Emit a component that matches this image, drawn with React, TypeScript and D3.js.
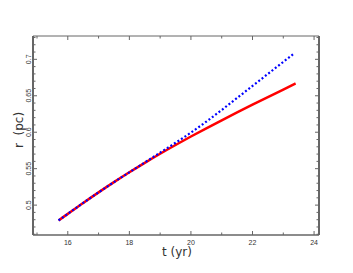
import { useEffect, useRef } from 'react';
import * as d3 from 'd3';

const tRed = [15.7, 16, 16.5, 17, 17.5, 18, 18.5, 19, 19.5, 20, 20.5, 21, 21.5, 22, 22.5, 23, 23.4];
const rRed = [0.479, 0.488, 0.503, 0.5175, 0.5315, 0.545, 0.558, 0.5705, 0.5825, 0.5941, 0.6053, 0.6163, 0.6271, 0.6377, 0.6482, 0.6586, 0.667];
const tBlue = [15.7, 16, 16.5, 17, 17.5, 18, 18.5, 19, 19.5, 20, 20.5, 21, 21.5, 22, 22.5, 23, 23.32];
const rBlue = [0.479, 0.488, 0.503, 0.5175, 0.5315, 0.545, 0.5585, 0.572, 0.5855, 0.5995, 0.6145, 0.6305, 0.647, 0.6635, 0.68, 0.6965, 0.707];
const xTicks = [16, 18, 20, 22, 24];
const yTicks = [0.5, 0.55, 0.6, 0.65, 0.7];

const App = () => {
  const ref = useRef<SVGSVGElement | null>(null);

  useEffect(() => {
    if (!ref.current) return;
    const svg = d3.select(ref.current);
    svg.selectAll('*').remove();

    const left = 33, right = 319, top = 36, bottom = 235;
    const x = d3.scaleLinear().domain([14.87, 24.16]).range([left, right]);
    const y = d3.scaleLinear().domain([0.459, 0.732]).range([bottom, top]);
    const axisColor = '#666';

    // frame
    svg.append('line').attr('x1', left).attr('x2', right).attr('y1', top).attr('y2', top).attr('stroke', axisColor).attr('stroke-width', 1);
    svg.append('line').attr('x1', left).attr('x2', right).attr('y1', bottom).attr('y2', bottom).attr('stroke', axisColor).attr('stroke-width', 1.5);
    svg.append('line').attr('x1', left).attr('x2', left).attr('y1', top).attr('y2', bottom).attr('stroke', axisColor).attr('stroke-width', 2);
    svg.append('line').attr('x1', right).attr('x2', right).attr('y1', top).attr('y2', bottom).attr('stroke', axisColor).attr('stroke-width', 2);

    // x ticks (major + minor), bottom and top
    const xAll = d3.range(15, 25, 1);
    xAll.forEach(v => {
      const len = v % 2 === 0 ? 4 : 2.5;
      svg.append('line').attr('x1', x(v)).attr('x2', x(v)).attr('y1', bottom).attr('y2', bottom - len).attr('stroke', axisColor);
      svg.append('line').attr('x1', x(v)).attr('x2', x(v)).attr('y1', top).attr('y2', top + len).attr('stroke', axisColor);
    });
    // y ticks
    const yAll = d3.range(46, 74, 1);
    yAll.forEach(k => {
      const v = k / 100;
      const len = k % 5 === 0 ? 4 : 2.5;
      svg.append('line').attr('x1', left).attr('x2', left + len).attr('y1', y(v)).attr('y2', y(v)).attr('stroke', axisColor);
      svg.append('line').attr('x1', right).attr('x2', right - len).attr('y1', y(v)).attr('y2', y(v)).attr('stroke', axisColor);
    });

    svg.selectAll('.xt').data(xTicks).enter().append('text')
      .attr('x', d => x(d)).attr('y', 245)
      .attr('text-anchor', 'middle')
      .attr('font-family', 'Liberation Sans, Arial, sans-serif')
      .attr('font-size', 7).attr('fill', '#333')
      .text(d => d);

    svg.selectAll('.yt').data(yTicks).enter().append('text')
      .attr('transform', d => `translate(31,${y(d)}) rotate(-90)`)
      .attr('text-anchor', 'middle')
      .attr('font-family', 'Liberation Sans, Arial, sans-serif')
      .attr('font-size', 7).attr('fill', '#333')
      .text(d => d);

    svg.append('text')
      .attr('x', 177).attr('y', 256)
      .attr('text-anchor', 'middle')
      .attr('font-family', 'DejaVu Sans, sans-serif')
      .attr('font-size', 12).attr('fill', '#333')
      .style('white-space', 'pre')
      .text('t (yr)');

    svg.append('text')
      .attr('transform', `translate(23,130) rotate(-90)`)
      .attr('text-anchor', 'middle')
      .attr('font-family', 'DejaVu Sans, sans-serif')
      .attr('font-size', 12).attr('fill', '#333')
      .style('white-space', 'pre')
      .text('r  (pc)');

    const line = d3.line<[number, number]>().x(d => x(d[0])).y(d => y(d[1])).curve(d3.curveMonotoneX);

    svg.append('path')
      .attr('d', line(tRed.map((t, i) => [t, rRed[i]] as [number, number])))
      .attr('fill', 'none').attr('stroke', '#ff0000').attr('stroke-width', 2.5);

    svg.append('path')
      .attr('d', line(tBlue.map((t, i) => [t, rBlue[i]] as [number, number])))
      .attr('fill', 'none').attr('stroke', '#0000ff').attr('stroke-width', 2.2)
      .attr('stroke-dasharray', '2 2.2');
  }, []);

  return (
    <svg ref={ref} width={353} height={273} style={{ position: 'absolute', left: 0, top: 0 }}></svg>
  );
};

export default App;
